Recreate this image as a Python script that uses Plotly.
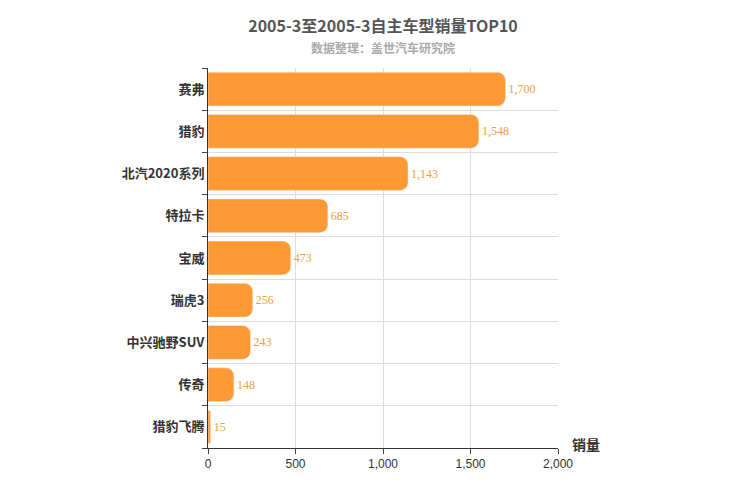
import plotly.graph_objects as go

models = ['赛弗', '猎豹', '北汽2020系列', '特拉卡', '宝威', '瑞虎3', '中兴驰野SUV', '传奇', '猎豹飞腾']
sales = [1700, 1548, 1143, 685, 473, 256, 243, 148, 15]

fig = go.Figure()
fig.add_trace(go.Bar(
    y=models, x=sales, orientation='h',
    marker=dict(color='#ff9933', cornerradius=8),
    width=0.8,
    text=[f'{v:,}' for v in sales], textposition='outside',
    textfont=dict(color='#f0a040', size=12, family='Arial Black'),
    cliponaxis=False,
))
fig.update_layout(
    width=750, height=500,
    margin=dict(l=200, r=200, t=60, b=60),
    plot_bgcolor='white', paper_bgcolor='white',
    showlegend=False,
    font=dict(family='Noto Sans CJK SC', color='#333'),
    title=dict(text='<b>2005-3至2005-3自主车型销量TOP10</b>', x=0.5, y=0.975,
               xanchor='center', font=dict(size=16, color='#555')),
    annotations=[
        dict(text='<b>数据整理：盖世汽车研究院</b>', x=0.5, y=1.0, xref='paper', yref='paper',
             yanchor='bottom', yshift=10, showarrow=False, font=dict(size=12, color='#aaa')),
        dict(text='<b>销量</b>', x=1.0, y=0, xref='paper', yref='paper', xanchor='left',
             yanchor='bottom', xshift=12, yshift=-8, showarrow=False, font=dict(size=14, color='#333')),
    ],
)
fig.update_xaxes(range=[0, 2000], dtick=500, showgrid=True, gridcolor='#ddd',
                 showline=True, linecolor='#333', ticks='outside', ticklen=5,
                 tickformat=',', tickfont=dict(size=12, family='Arial'), zeroline=False)
fig.update_yaxes(autorange='reversed', tickson='boundaries', showgrid=True, gridcolor='#ddd',
                 showline=True, linecolor='#333', ticks='outside', ticklen=5,
                 tickfont=dict(size=13, color='#333'))
fig.update_yaxes(ticktext=[f'<b>{m}</b>' for m in models], tickvals=models)
fig.write_html('out.html')
